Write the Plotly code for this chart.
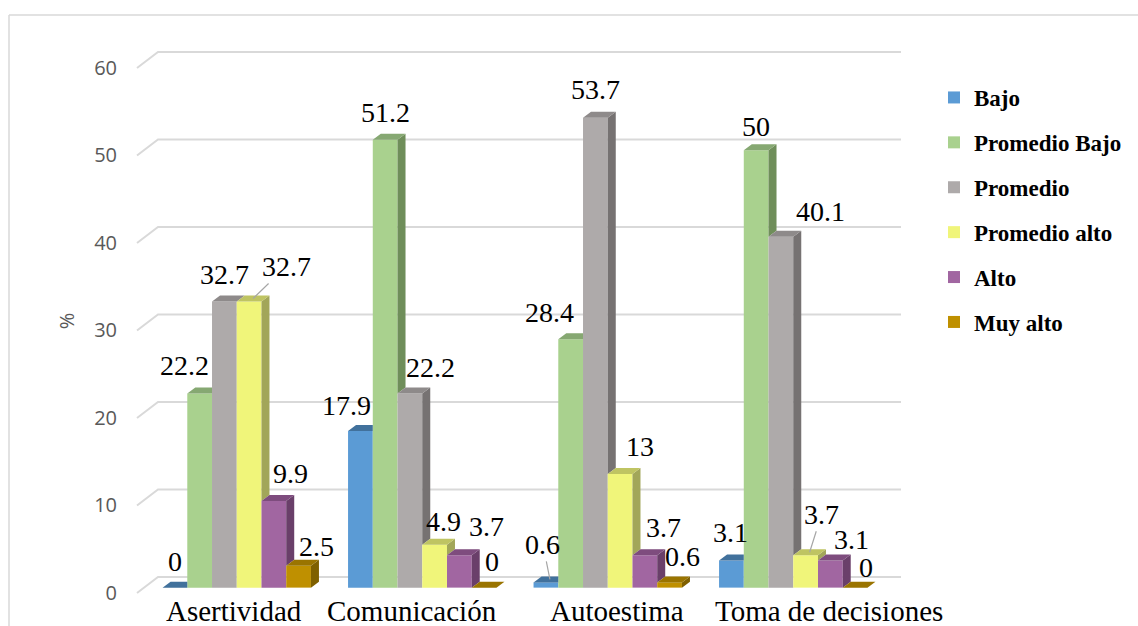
import plotly.graph_objects as go

# ---------------- data ----------------
categories = ["Asertividad", "Comunicación", "Autoestima", "Toma de decisiones"]
series_names = ["Bajo", "Promedio Bajo", "Promedio", "Promedio alto", "Alto", "Muy alto"]
bajo = [0, 17.9, 0.6, 3.1]
promedio_bajo = [22.2, 51.2, 28.4, 50]
promedio = [32.7, 22.2, 53.7, 40.1]
promedio_alto = [32.7, 4.9, 13, 3.7]
alto = [9.9, 3.7, 3.7, 3.1]
muy_alto = [2.5, 0, 0.6, 0]
y_ticks = [0, 10, 20, 30, 40, 50, 60]
y_title = "%"

series_values = [bajo, promedio_bajo, promedio, promedio_alto, alto, muy_alto]

# ---------------- styles ----------------
front_colors = ["#5B9BD5", "#A9D18E", "#AEAAAA", "#F0F57A", "#A166A1", "#BF9000"]
top_colors = ["#41719C", "#86A872", "#8E8A8A", "#BFC462", "#7E4C7E", "#9A7400"]
side_colors = ["#3C6791", "#6F8E5A", "#767272", "#A2A659", "#6A3F6A", "#7F6000"]
SERIF = "Liberation Serif, Times New Roman, DejaVu Serif, serif"

# label offsets in pixels (dx right, dy up) relative to bar top centre; leader flag
label_offsets = [
    [(0, 26, False), (-14, 26, False), (-7, 35, True), (-1, 28, False)],
    [(-15, 28, False), (0, 27, False), (-21, 27, False), (0, 24, False)],
    [(0, 27, False), (21, 26, False), (0, 28, False), (40, 25, False)],
    [(33, 32, True), (9, 23, False), (20, 27, False), (12, 38, True)],
    [(17, 28, False), (27, 29, False), (19, 28, False), (21, 21, False)],
    [(18, 19, False), (8, 26, False), (13, 26, False), (11, 20, False)],
]
cat_label_shift = [-3, -10, 9, 36]

FIG_W, FIG_H = 1138, 626
ML, MR, MT, MB = 144, 252, 50, 34
PW, PH = FIG_W - ML - MR, FIG_H - MT - MB
XR = [-0.5, len(categories) - 0.5]
PX_PER_Y = 8.75
YR = [-0.5, -0.5 + PH / PX_PER_Y]
ux = PW / (XR[1] - XR[0])
uy = PX_PER_Y
DEPTH_X, DEPTH_Y = 8, 6
dxu, dyu = DEPTH_X / ux, DEPTH_Y / uy

n_series = len(series_names)
group_w = 0.8
bw = group_w / n_series


def bar_center(i, j):
    return i - group_w / 2 + (j + 0.5) * bw


def px_x(px):
    return (px - ML) / PW


def px_y(py):
    return 1 - (py - MT) / PH


def val_py(v):
    return MT + PH - (v - YR[0]) * uy


fig = go.Figure()

# front faces
for j, name in enumerate(series_names):
    fig.add_trace(go.Bar(
        x=list(range(len(categories))), y=series_values[j], name=name,
        marker=dict(color=front_colors[j], line=dict(width=0)),
        legendgroup=name, hoverinfo="skip",
    ))

# side and top faces (clipped by the next bar in the group)
for j in range(n_series):
    sx, sy, tx, ty = [], [], [], []
    for i in range(len(categories)):
        v = series_values[j][i]
        xc = bar_center(i, j)
        x0, x1 = xc - bw / 2, xc + bw / 2
        vn = series_values[j + 1][i] if j < n_series - 1 else None
        if vn is None or vn < v:
            b = 0 if vn is None else max(0, vn)
            pts = [(x1, b), (x1, v), (x1 + dxu, v + dyu), (x1 + dxu, b + dyu), (x1, b)]
            for p in pts:
                sx.append(p[0]); sy.append(p[1])
            sx.append(None); sy.append(None)
        if vn is None or vn <= v:
            pts = [(x0, v), (x1, v), (x1 + dxu, v + dyu), (x0 + dxu, v + dyu)]
        elif vn >= v + dyu:
            pts = [(x0, v), (x1, v), (x1, v + dyu), (x0 + dxu, v + dyu)]
        else:
            pts = [(x0, v), (x1, v), (x1, vn), (x1 + (vn - v) * dxu / dyu, vn),
                   (x1 + dxu, v + dyu), (x0 + dxu, v + dyu)]
        pts.append(pts[0])
        for p in pts:
            tx.append(p[0]); ty.append(p[1])
        tx.append(None); ty.append(None)
    if sx:
        fig.add_trace(go.Scatter(x=sx, y=sy, mode="lines", fill="toself",
                                 fillcolor=side_colors[j], line=dict(width=0),
                                 showlegend=False, hoverinfo="skip"))
    fig.add_trace(go.Scatter(x=tx, y=ty, mode="lines", fill="toself",
                             fillcolor=top_colors[j], line=dict(width=0),
                             showlegend=False, hoverinfo="skip"))

# gridlines on the back wall with the slanted floor edge (paper coords, unclipped)
shapes = []
for v in y_ticks:
    yb = val_py(v)
    pts = [(ML - 7, yb + 5.4), (ML + 14, yb - 10.6), (ML + 757, yb - 10.6)]
    path = "M " + " L ".join(f"{px_x(a):.5f},{px_y(b):.5f}" for a, b in pts)
    shapes.append(dict(type="path", xref="paper", yref="paper", path=path,
                       line=dict(color="#D9D9D9", width=2), layer="below"))
# chart frame (left and top edges)
shapes.append(dict(type="line", xref="paper", yref="paper",
                   x0=px_x(9), x1=px_x(9), y0=px_y(15), y1=px_y(700),
                   line=dict(color="#D9D9D9", width=1.5)))
shapes.append(dict(type="line", xref="paper", yref="paper",
                   x0=px_x(9), x1=px_x(1200), y0=px_y(15), y1=px_y(15),
                   line=dict(color="#D9D9D9", width=1.5)))

annotations = []
label_font = dict(family=SERIF, size=28, color="black")
for j in range(n_series):
    for i in range(len(categories)):
        v = series_values[j][i]
        dx, dy, leader = label_offsets[j][i]
        xc = bar_center(i, j)
        txt = f"{v:g}"
        if leader:
            annotations.append(dict(
                x=xc + dxu * 0.5, y=v + dyu * 0.5, xref="x", yref="y", text=txt,
                showarrow=True, arrowhead=0, arrowwidth=1.2, arrowcolor="#A6A6A6",
                ax=dx, ay=-dy, standoff=0, font=label_font,
            ))
        else:
            annotations.append(dict(
                x=xc, y=v, xref="x", yref="y", text=txt, showarrow=False,
                xshift=dx, yshift=dy, xanchor="center", yanchor="middle",
                font=label_font,
            ))
for i, c in enumerate(categories):
    annotations.append(dict(
        x=i, y=0, xref="x", yref="paper", text=c, showarrow=False,
        xshift=cat_label_shift[i], yshift=-19, xanchor="center", yanchor="middle",
        font=dict(family=SERIF, size=29, color="black"),
    ))

fig.update_layout(
    width=FIG_W, height=FIG_H,
    margin=dict(l=ML, r=MR, t=MT, b=MB, pad=0, autoexpand=False),
    paper_bgcolor="white", plot_bgcolor="white",
    barmode="group", bargap=1 - group_w, bargroupgap=0,
    showlegend=True,
    legend=dict(
        x=px_x(934), y=px_y(76), xanchor="left", yanchor="top",
        traceorder="grouped", tracegroupgap=12,
        font=dict(family=SERIF, size=23, color="black", weight="bold"),
        bgcolor="rgba(0,0,0,0)",
    ),
    xaxis=dict(range=XR, showgrid=False, zeroline=False, showticklabels=False,
               showline=False, ticks="", fixedrange=True),
    yaxis=dict(range=YR, tickvals=y_ticks, showgrid=False, zeroline=False,
               showline=False, ticks="", ticklabelshift=5, ticklabelstandoff=26,
               tickfont=dict(family="Open Sans", size=20, color="#595959"),
               title=dict(text=y_title, standoff=14,
                          font=dict(family="Open Sans", size=20, color="#595959"))),
    shapes=shapes, annotations=annotations,
)

fig.write_html("out.html")
